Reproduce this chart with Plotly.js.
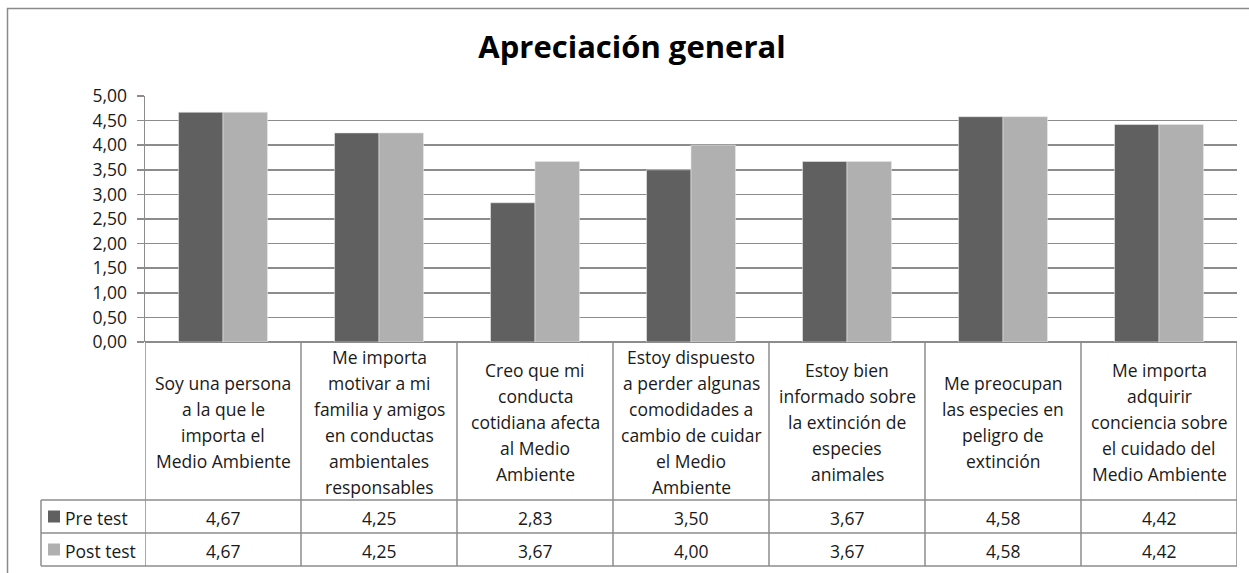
<!DOCTYPE html>
<html>
<head>
<meta charset="utf-8">
<script src="https://cdn.plot.ly/plotly-3.0.1.min.js"></script>
<style>html,body{margin:0;padding:0;background:#fff;}#chart{width:1249px;height:573px;}</style>
</head>
<body>
<div id="chart"></div>
<script>
const categoryLines = [
  ["Soy una persona", "a la que le", "importa el", "Medio Ambiente"],
  ["Me importa", "motivar a mi", "familia y amigos", "en conductas", "ambientales", "responsables"],
  ["Creo que mi", "conducta", "cotidiana afecta", "al Medio", "Ambiente"],
  ["Estoy dispuesto", "a perder algunas", "comodidades a", "cambio de cuidar", "el Medio", "Ambiente"],
  ["Estoy bien", "informado sobre", "la extinción de", "especies", "animales"],
  ["Me preocupan", "las especies en", "peligro de", "extinción"],
  ["Me importa", "adquirir", "conciencia sobre", "el cuidado del", "Medio Ambiente"]
];
const categories = categoryLines.map(l => l.join(" "));
const seriesNames = ["Pre test", "Post test"];
const preTest = [4.67, 4.25, 2.83, 3.50, 3.67, 4.58, 4.42];
const postTest = [4.67, 4.25, 3.67, 4.00, 3.67, 4.58, 4.42];
const seriesValues = [preTest, postTest];
const seriesColors = ["#606060", "#b0b0b0"];
const yTickVals = [0, 0.5, 1, 1.5, 2, 2.5, 3, 3.5, 4, 4.5, 5];

// layout geometry (pixels)
const L = 145, T = 96, W = 1092, H = 246;
const px = x => (x - L) / W;
const py = y => (T + H - y) / H;
const FONT = "Open Sans, Noto Sans, sans-serif";
const txtColor = "#1a1a1a";
const lineColor = "#8c8c8c";
const FS = 17.5;
const fmt = v => v.toFixed(2).replace(".", ",");

const traces = seriesValues.map((vals, i) => ({
  type: "bar",
  name: seriesNames[i],
  x: categories.map((c, k) => k),
  y: vals,
  marker: {color: seriesColors[i], line: {color: "#e8e8e8", width: 0.6}},
  hoverinfo: "y"
}));

const shapes = [];
const annotations = [];

// outer border
shapes.push({type: "rect", xref: "paper", yref: "paper", x0: px(7.5), x1: px(1262), y0: py(8.5), y1: py(590),
  line: {color: "#8a8a8a", width: 1.5}, fillcolor: "rgba(0,0,0,0)", layer: "below"});

// table geometry
const rowTop = 342, rowLabelBottom = 500, rowPreBottom = 533, rowPostBottom = 566;
const legendLeft = 41;
const n = categories.length;
for (let k = 0; k <= n; k++) {
  shapes.push({type: "line", xref: "x", yref: "paper", x0: k - 0.5, x1: k - 0.5, y0: py(rowTop), y1: py(rowPostBottom),
    line: {color: lineColor, width: 1.5}});
}
[rowLabelBottom, rowPreBottom, rowPostBottom].forEach(y => {
  shapes.push({type: "line", xref: "paper", yref: "paper", x0: px(legendLeft), x1: 1, y0: py(y), y1: py(y),
    line: {color: lineColor, width: 1.5}});
});
shapes.push({type: "line", xref: "paper", yref: "paper", x0: px(legendLeft), x1: px(legendLeft), y0: py(rowLabelBottom), y1: py(rowPostBottom),
  line: {color: lineColor, width: 1.5}});

// category labels
const lh = 26;
categoryLines.forEach((lines, k) => {
  const mid = (rowTop + rowLabelBottom) / 2 + 1;
  const start = mid - (lines.length - 1) * lh / 2;
  lines.forEach((t, j) => {
    annotations.push({xref: "x", yref: "paper", x: k, y: py(start + j * lh), text: t, showarrow: false,
      xanchor: "center", yanchor: "middle", font: {family: FONT, size: FS, color: txtColor}});
  });
});

// value rows + legend keys
const rowMids = [(rowLabelBottom + rowPreBottom) / 2, (rowPreBottom + rowPostBottom) / 2];
seriesValues.forEach((vals, i) => {
  vals.forEach((v, k) => {
    annotations.push({xref: "x", yref: "paper", x: k, y: py(rowMids[i] + 1), text: fmt(v), showarrow: false,
      xanchor: "center", yanchor: "middle", font: {family: FONT, size: FS, color: txtColor}});
  });
  shapes.push({type: "rect", xref: "paper", yref: "paper", x0: px(48), x1: px(60), y0: py(rowMids[i] - 6), y1: py(rowMids[i] + 6),
    fillcolor: seriesColors[i], line: {width: 0}});
  annotations.push({xref: "paper", yref: "paper", x: px(63), y: py(rowMids[i] + 1), text: seriesNames[i], showarrow: false,
    xanchor: "left", yanchor: "middle", font: {family: FONT, size: FS, color: txtColor}});
});

const layout = {
  width: 1249, height: 573,
  margin: {l: L, r: 1249 - L - W, t: T, b: 573 - T - H, pad: 0},
  paper_bgcolor: "#fff", plot_bgcolor: "#fff",
  separators: ",.",
  title: {text: "<b>Apreciación general</b>", x: 0.506, xanchor: "center", y: 1 - 47 / 573, yanchor: "middle",
    font: {family: FONT, size: 31, color: "#000"}},
  showlegend: false,
  barmode: "group", bargap: 0.43, bargroupgap: 0,
  xaxis: {range: [-0.5, n - 0.5], showticklabels: false, ticks: "", showgrid: false, zeroline: false,
    showline: false, fixedrange: true},
  yaxis: {range: [0, 5], tickvals: yTickVals, ticktext: yTickVals.map(fmt), ticks: "outside", ticklen: 7,
    tickcolor: lineColor, tickwidth: 1.5, showgrid: true, gridcolor: lineColor, gridwidth: 1.5,
    showline: true, linecolor: lineColor, linewidth: 1.5, zeroline: true, zerolinecolor: lineColor, zerolinewidth: 1.5,
    ticklabelstandoff: 6,
    tickfont: {family: FONT, size: FS, color: txtColor}, fixedrange: true},
  shapes: shapes,
  annotations: annotations
};

Plotly.newPlot("chart", traces, layout, {displayModeBar: false, staticPlot: true});
</script>
</body>
</html>
